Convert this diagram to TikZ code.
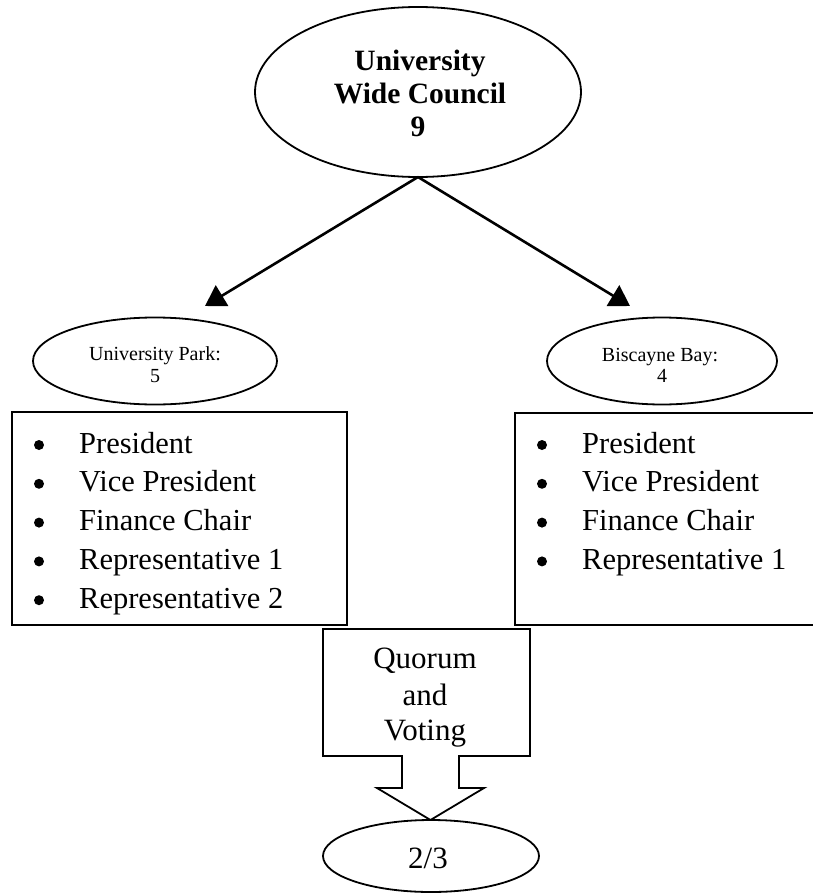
\documentclass[tikz,border=0pt]{standalone}
\usepackage{fontspec}
\setmainfont{Liberation Serif}
\usetikzlibrary{shapes.geometric,arrows.meta}
\begin{document}
\begin{tikzpicture}[x=1pt,y=-1pt,
  shapeline/.style={draw=black, line width=1.8pt},
  oval/.style={ellipse, shapeline, fill=white, inner sep=0pt, outer sep=0pt},
  panel/.style={rectangle, shapeline, fill=white, inner sep=0pt, outer sep=0pt},
  txt/.style={anchor=base, inner sep=0pt},
  big/.style={txt, font=\fontsize{29.5}{33}\selectfont\bfseries},
  small/.style={txt, font=\fontsize{20}{22}\selectfont},
  mid/.style={txt, font=\fontsize{31}{36}\selectfont},
  item/.style={anchor=base west, inner sep=0pt, font=\fontsize{30.5}{36}\selectfont},
  dot/.style={circle, fill=black, inner sep=0pt, minimum size=10pt},
  link/.style={line width=2.6pt, -{Triangle[length=20pt,width=24pt]}}
]
\useasboundingbox (0,0) rectangle (813,894);
\clip (0,0) rectangle (813,894);

% top ellipse
\node[oval, minimum width=326pt, minimum height=170pt] (top) at (418,92) {};
\node[big] (t1) at (420,70) {University};
\node[big] (t2) at (420,103) {Wide Council};
\node[big] (t3) at (418,136) {9};

% campus ovals
\node[oval, minimum width=244pt, minimum height=87pt] (up) at (155,361) {};
\node[small] (up1) at (155,360) {University Park:};
\node[small] (up2) at (155,382) {5};
\node[oval, minimum width=230pt, minimum height=87pt] (bb) at (662,361) {};
\node[small] (bb1) at (660,361) {Biscayne Bay:};
\node[small] (bb2) at (662,382) {4};

% arrows
\coordinate (tl) at (205,306);
\coordinate (tr) at (630,306);
\draw[link] (top.south) -- (tl);
\draw[link] (top.south) -- (tr);

% quorum block arrow
\draw[shapeline, fill=white, line join=miter]
  (323,629) -- (530,629) -- (530,756) -- (459,756) -- (459,788) -- (484,788)
  -- (430.5,820) coordinate (qtip) -- (377,788) -- (402,788) -- (402,756)
  -- (323,756) -- cycle;
\node[mid] (q1) at (425,668) {Quorum};
\node[mid] (q2) at (425,705) {and};
\node[mid] (q3) at (425,740) {Voting};

% member boxes
\node[panel, minimum width=335pt, minimum height=213pt] (lbox) at (179.5,518.5) {};
\node[panel, minimum width=315pt, minimum height=212pt] (rbox) at (672.5,519) {};

\foreach \t [count=\i] in {President, Vice President, Finance Chair, Representative 1, Representative 2} {
  \node[dot] (lb\i) at (39, 445+38.8*\i-38.8) {};
  \node[item] (li\i) at (79, 453+38.8*\i-38.8) {\t};
}
\foreach \t [count=\i] in {President, Vice President, Finance Chair, Representative 1} {
  \node[dot] (rb\i) at (542, 445+38.8*\i-38.8) {};
  \node[item] (ri\i) at (582, 453+38.8*\i-38.8) {\t};
}

% result oval
\node[oval, minimum width=216pt, minimum height=72pt] (res) at (431,856) {};
\node[mid] (r1) at (428,868) {2/3};
\end{tikzpicture}
\end{document}
